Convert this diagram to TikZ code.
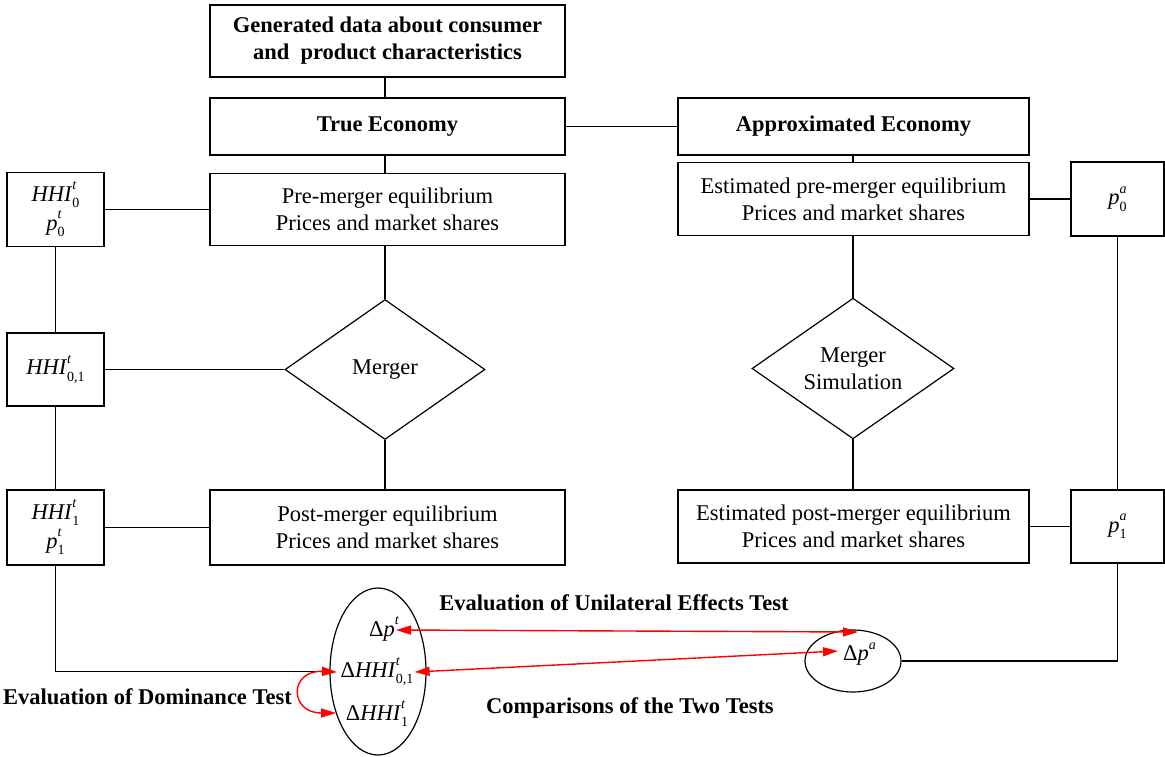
\documentclass[tikz,border=0pt]{standalone}
\usepackage{fontspec}
\setmainfont{Liberation Serif}
\usetikzlibrary{shapes.geometric,arrows.meta}
\newcommand{\sv}[3]{\textit{#1}\rlap{\raisebox{0.5em}{\fontsize{14}{14}\selectfont\textit{#2}}}\raisebox{-0.3em}{\fontsize{14}{14}\selectfont #3}}
\tikzset{
  box/.style={draw,line width=1.2pt,rectangle,inner sep=0pt,align=center},
  dia/.style={draw,line width=1.2pt,diamond,inner sep=0pt,align=center},
  ell/.style={draw,line width=1.2pt,ellipse,inner sep=0pt},
  conn/.style={line width=1.2pt},
  redarrow/.style={draw=red,line width=1.4pt,{Triangle[length=15pt,width=9pt]}-{Triangle[length=15pt,width=9pt]}},
  lbl/.style={font=\fontsize{22.5}{27}\selectfont\bfseries,inner sep=0pt}
}
\begin{document}
\begin{tikzpicture}[x=1pt,y=-1pt,font=\fontsize{22.5}{27}\selectfont]
\useasboundingbox (0,0) rectangle (1165,756);
% left column
\node[box,minimum width=355pt,minimum height=72pt,font=\fontsize{22.5}{27}\selectfont\bfseries] (top) at (387.5,41) {Generated data about consumer\\and\ \ product characteristics};
\node[box,minimum width=355pt,minimum height=57pt,font=\fontsize{22.5}{27}\selectfont\bfseries] (true) at (387.5,126.5) {True Economy};
\node[box,minimum width=351pt,minimum height=57pt,font=\fontsize{22.5}{27}\selectfont\bfseries] (approx) at (853.5,126.5) {Approximated Economy};
\node[box,minimum width=355pt,minimum height=72pt] (pre) at (387.5,209.5) {Pre-merger equilibrium\\Prices and market shares};
\node[box,minimum width=97pt,minimum height=74pt] (hhi0) at (55.5,209.5) {\sv{HHI}{t}{0}\\[2pt]\sv{p}{t}{0}};
\node[dia,minimum width=200pt,minimum height=140pt] (merger) at (385,369.5) {Merger};
\node[box,minimum width=97pt,minimum height=73pt] (hhi01) at (55.5,369.5) {\sv{HHI}{t}{0,1}};
\node[box,minimum width=355pt,minimum height=75pt] (post) at (387.5,527.5) {Post-merger equilibrium\\Prices and market shares};
\node[box,minimum width=97pt,minimum height=75pt] (hhi1) at (55.5,527.5) {\sv{HHI}{t}{1}\\[2pt]\sv{p}{t}{1}};
% right column
\node[box,minimum width=351pt,minimum height=73pt] (estpre) at (853.5,199) {Estimated pre-merger equilibrium\\Prices and market shares};
\node[box,minimum width=93pt,minimum height=74pt] (p0a) at (1117.5,199) {\sv{p}{a}{0}};
\node[dia,minimum width=202pt,minimum height=137pt] (sim) at (853,368.5) {Merger\\Simulation};
\node[box,minimum width=351pt,minimum height=73pt] (estpost) at (853.5,526.5) {Estimated post-merger equilibrium\\Prices and market shares};
\node[box,minimum width=93pt,minimum height=73pt] (p1a) at (1117.5,526.5) {\sv{p}{a}{1}};
% bottom ellipses
\node[ell,minimum width=96pt,minimum height=167pt] (big) at (378,671.5) {};
\node[inner sep=1pt] (dpt) at (382,630) {Δ\sv{p}{t}{}};
\node[inner sep=1pt] (dh01) at (377,672) {Δ\sv{HHI}{t}{0,1}};
\node[inner sep=1pt] (dh1) at (377,714) {Δ\sv{HHI}{t}{1}};
\node[ell,minimum width=96pt,minimum height=62pt] (dpaell) at (853,661) {};
\node[inner sep=1pt] (dpa) at (856,655) {Δ\sv{p}{a}{}};
% labels
\node[lbl] (l1) at (614,603) {Evaluation of Unilateral Effects Test};
\node[lbl] (l2) at (630,708) {Comparisons of the Two Tests};
\node[lbl] (l3) at (147.5,697) {Evaluation of Dominance Test};
% connectors
\draw[conn] (true.north -| merger.north) -- (top.south -| merger.north);
\draw[conn] (true.east) -- (approx.west);
\draw[conn] (true.south -| merger.north) -- (pre.north -| merger.north);
\draw[conn] (approx.south -| sim.north) -- (estpre.north -| sim.north);
\draw[conn] (hhi0.east) -- (pre.west);
\draw[conn] (pre.south -| merger.north) -- (merger.north);
\draw[conn] (merger.south) -- (post.north -| merger.south);
\draw[conn] (hhi01.east) -- (merger.west);
\draw[conn] (hhi0.south) -- (hhi01.north);
\draw[conn] (hhi01.south) -- (hhi1.north);
\draw[conn] (hhi1.east) -- (post.west);
\draw[conn] (hhi1.south) |- (big.west);
\draw[conn] (estpre.east) -- (p0a.west);
\draw[conn] (estpre.south -| sim.north) -- (sim.north);
\draw[conn] (sim.south) -- (estpost.north -| sim.south);
\draw[conn] (estpost.east) -- (p1a.west);
\draw[conn] (p0a.south) -- (p1a.north);
\draw[conn] (p1a.south) |- (dpaell.east);
% red arrows
\coordinate (a1) at (858,632);
\coordinate (a2) at (838,651);
\coordinate (c1) at (337,672);
\coordinate (c2) at (336,713);
\draw[redarrow] (dpt.east) -- (a1);
\draw[redarrow] (dh01.east) -- (a2);
\draw[redarrow] (c1) .. controls (289,670) and (289,713) .. (c2);
\end{tikzpicture}
\end{document}
